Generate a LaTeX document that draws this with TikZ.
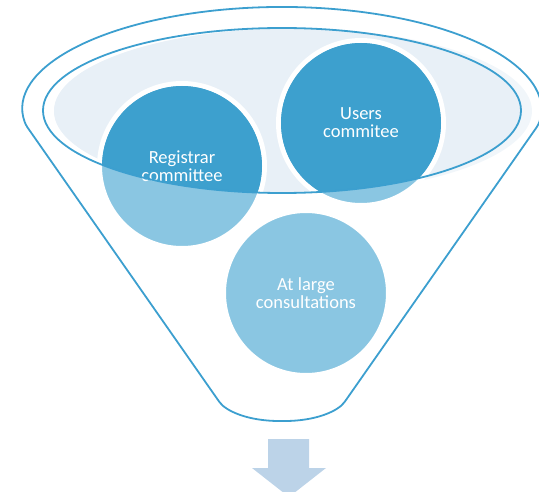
\documentclass[tikz,border=0pt]{standalone}
\usepackage{fontspec}
\setmainfont{Carlito}
\usetikzlibrary{calc}
\definecolor{funnelblue}{HTML}{3C9FCF}
\definecolor{darkblue}{HTML}{3DA0CE}
\definecolor{lightblue}{HTML}{8AC6E2}
\definecolor{paleblue}{HTML}{E8F0F7}
\definecolor{palerblue}{HTML}{F1F6FA}
\definecolor{arrowblue}{HTML}{BCD3E8}
\tikzset{
  circlebox/.style={circle,fill=lightblue,draw=white,line width=5pt,minimum size=165pt,inner sep=0pt},
  circletext/.style={text=white,align=center,font=\fontsize{18.5}{18}\selectfont},
  funnelline/.style={draw=funnelblue,line width=1.8pt}
}

\begin{document}
\begin{tikzpicture}[x=1pt,y=1pt]
      \useasboundingbox (0,0) rectangle (539,491);
      \fill[palerblue] (293,380) ellipse [x radius=239, y radius=82.5];
      \begin{scope}
        \clip (282,380.5) ellipse [x radius=239, y radius=82.5];
        \fill[paleblue] (293,380) ellipse [x radius=239, y radius=82.5];
      \end{scope}
      \draw (182,325) node [circlebox] (reg) {}
        (361,368) node [circlebox] (usr) {}
        (306,198) node [circlebox] (big) {};
      \begin{scope}
        \clip (282,380.5) ellipse [x radius=239, y radius=82.5];
        \fill[darkblue] (reg) circle (80pt);
        \fill[darkblue] (usr) circle (80pt);
      \end{scope}
      \node [circletext] at (reg) (regtext) {Registrar\\committee};
      \node [circletext] at (usr) (usrtext) {Users\\commitee};
      \node [circletext] at (big) (bigtext) {At large\\consultations};
      \draw[funnelline] (282,380.5) ellipse [x radius=239, y radius=82.5];
      \draw[funnelline,rounded corners=3pt] (25.8,366) coordinate (rimleft)
        arc [start angle=188.4, end angle=-8.4, x radius=259, y radius=103] coordinate (rimright)
        -- (346,91) coordinate (neckright)
        .. controls (338,80) and (316,70) .. (282,70) coordinate (neckbottom)
        .. controls (248,70) and (226,80) .. (218,91) coordinate (neckleft)
        -- cycle;
      \fill[arrowblue] (268,52) -- (309,52) -- (309,23) -- (326,23) -- (289,-6)
        -- (252,23) -- (268,23) -- cycle;
\end{tikzpicture}
\end{document}
